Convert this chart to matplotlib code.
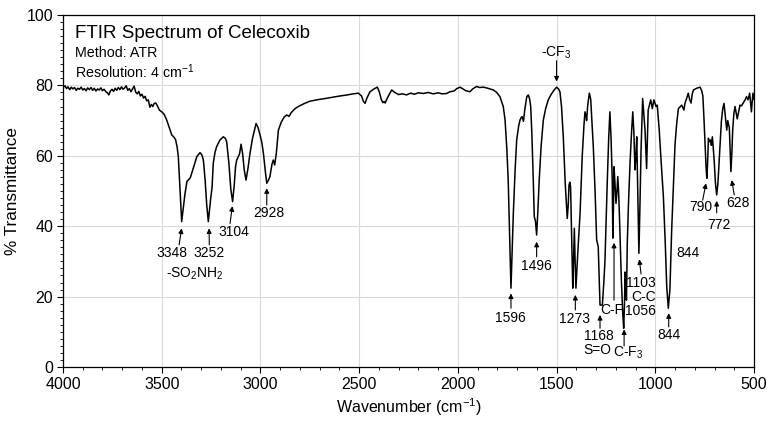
import matplotlib
matplotlib.use("Agg")
import matplotlib.pyplot as plt
from matplotlib.ticker import MultipleLocator

plt.rcParams['font.family'] = ['Liberation Sans', 'DejaVu Sans']
plt.rcParams['mathtext.fontset'] = 'custom'
plt.rcParams['mathtext.rm'] = 'Liberation Sans'
plt.rcParams['mathtext.it'] = 'Liberation Sans:italic'
plt.rcParams['mathtext.bf'] = 'Liberation Sans:bold'

# spectrum (wavenumber cm-1, % transmittance)
wavenumber = [
    4000, 3990, 3982, 3975, 3966, 3958, 3950, 3942, 3933, 3925, 3917, 3908, 3900, 3892, 3883, 3875,
    3867, 3858, 3850, 3842, 3833, 3825, 3817, 3808, 3800, 3792, 3783, 3775, 3768, 3760, 3752, 3744,
    3736, 3728, 3720, 3712, 3704, 3696, 3688, 3680, 3672, 3664, 3656, 3648, 3640, 3632, 3624, 3616,
    3608, 3600, 3592, 3584, 3576, 3568, 3560, 3552, 3545, 3538, 3530, 3522, 3512, 3500, 3488, 3475,
    3462, 3449, 3438, 3430, 3422, 3416, 3408, 3399, 3390, 3382, 3372, 3365, 3355, 3340, 3322, 3306,
    3296, 3289, 3280, 3272, 3264, 3258, 3252, 3245, 3239, 3230, 3222, 3205, 3188, 3178, 3171, 3160,
    3150, 3141, 3133, 3126, 3120, 3112, 3106, 3098, 3090, 3082, 3073, 3063, 3053, 3040, 3022, 3012,
    3002, 2993, 2985, 2975, 2968, 2960, 2952, 2942, 2935, 2928, 2920, 2909, 2895, 2880, 2867, 2855,
    2845, 2825, 2808, 2780, 2750, 2715, 2680, 2640, 2597, 2560, 2530, 2504, 2488, 2478, 2470, 2460,
    2445, 2425, 2408, 2398, 2388, 2380, 2374, 2368, 2364, 2350, 2335, 2320, 2300, 2280, 2260, 2240,
    2220, 2200, 2175, 2150, 2125, 2100, 2080, 2057, 2040, 2020, 2005, 1989, 1975, 1960, 1939, 1925,
    1905, 1890, 1870, 1855, 1837, 1820, 1803, 1787, 1770, 1761, 1752, 1745, 1738, 1731, 1725, 1719,
    1710, 1702, 1692, 1685, 1678, 1674, 1668, 1660, 1651, 1643, 1636, 1631, 1625, 1618, 1613, 1607,
    1601, 1595, 1588, 1578, 1567, 1555, 1542, 1530, 1515, 1500, 1490, 1483, 1475, 1466, 1456, 1446,
    1441, 1437, 1433, 1429, 1424, 1418, 1414, 1410, 1406, 1402, 1392, 1381, 1370, 1361, 1356, 1350,
    1348, 1342, 1334, 1327, 1314, 1305, 1297, 1289, 1284, 1280, 1268, 1260, 1255, 1243, 1236, 1230,
    1224, 1218, 1215, 1212, 1209, 1204, 1199, 1194, 1190, 1186, 1182, 1172, 1165, 1160, 1156, 1153,
    1150, 1146, 1142, 1136, 1128, 1120, 1114, 1108, 1103, 1098, 1094, 1089, 1083, 1078, 1072, 1064,
    1058, 1052, 1044, 1040, 1036, 1023, 1015, 1007, 996, 990, 980, 970, 959, 950, 942, 934,
    926, 917, 908, 900, 891, 883, 866, 855, 850, 840, 833, 826, 819, 813, 807, 790,
    773, 765, 759, 753, 748, 743, 739, 735, 731, 726, 720, 716, 711, 706, 701, 695,
    689, 683, 677, 672, 665, 658, 652, 645, 638, 633, 625, 621, 617, 612, 608, 602,
    596, 590, 585, 578, 571, 563, 555, 546, 538, 530, 522, 517, 513, 509, 505, 500,
]
transmittance = [
    79.4, 79.9, 79.1, 79.6, 78.8, 79.5, 79.0, 79.4, 78.6, 79.2, 78.9, 79.5, 78.7, 79.1, 78.5, 79.3,
    78.8, 79.4, 78.6, 79.2, 78.4, 79.0, 78.7, 79.3, 78.5, 78.9, 78.2, 77.9, 77.3, 78.4, 78.9, 78.3,
    79.2, 78.6, 79.4, 78.8, 79.6, 78.9, 79.3, 79.9, 78.6, 79.1, 78.2, 79.0, 79.8, 78.1, 77.6, 78.3,
    77.0, 77.5, 76.4, 76.9, 75.6, 75.9, 73.8, 74.6, 74.0, 74.9, 75.0, 74.2, 73.0, 72.5, 71.8, 70.2,
    68.0, 65.9, 65.3, 64.6, 62.5, 59.8, 51.0, 41.3, 45.5, 49.3, 52.8, 53.1, 53.8, 56.5, 59.8, 60.9,
    60.2, 58.8, 53.0, 46.0, 41.3, 44.5, 47.9, 51.0, 57.9, 61.0, 62.6, 64.5, 65.4, 65.0, 64.0, 58.0,
    50.5, 47.0, 51.5, 57.0, 58.8, 59.8, 60.5, 63.3, 60.5, 56.0, 53.1, 56.5, 60.7, 65.0, 69.2, 68.0,
    65.9, 63.8, 60.7, 55.5, 52.2, 53.0, 54.1, 57.5, 58.8, 57.4, 60.5, 67.3, 69.5, 71.0, 71.6, 71.2,
    72.2, 73.4, 74.0, 74.8, 75.5, 75.9, 76.2, 76.6, 77.0, 77.3, 77.6, 77.8, 77.0, 75.4, 74.9, 76.5,
    78.2, 79.0, 79.5, 78.2, 76.0, 75.1, 75.4, 75.0, 75.6, 77.2, 78.7, 78.0, 77.4, 77.6, 77.3, 77.8,
    77.5, 77.9, 77.7, 78.0, 77.6, 77.9, 77.6, 77.7, 78.2, 78.4, 79.1, 79.5, 79.0, 78.5, 78.2, 79.0,
    79.7, 79.4, 79.5, 79.3, 79.0, 78.7, 78.0, 76.8, 74.0, 70.2, 62.0, 53.1, 38.0, 22.4, 33.0, 43.7,
    56.0, 64.5, 68.5, 70.2, 71.0, 71.1, 69.8, 73.5, 76.8, 77.3, 76.0, 74.0, 66.0, 53.1, 42.7, 41.5,
    37.5, 44.0, 53.1, 63.0, 70.2, 73.5, 75.9, 77.2, 78.5, 79.5, 79.0, 78.2, 74.0, 65.4, 52.0, 42.2,
    46.0, 51.7, 52.5, 51.0, 38.0, 22.4, 30.0, 39.4, 30.0, 22.4, 33.0, 43.7, 60.0, 69.0, 72.5, 71.0,
    70.0, 74.5, 77.8, 76.0, 62.6, 50.0, 36.1, 34.2, 25.0, 17.6, 17.6, 24.7, 30.0, 53.1, 65.0, 72.5,
    65.0, 53.1, 36.6, 45.0, 56.9, 52.0, 46.5, 50.0, 54.1, 50.0, 43.7, 25.0, 15.3, 11.0, 18.0, 27.0,
    22.0, 19.0, 35.0, 46.0, 57.9, 67.0, 72.5, 66.0, 56.0, 60.0, 65.4, 50.0, 32.3, 45.0, 62.0, 76.3,
    72.0, 67.3, 56.4, 65.0, 73.0, 75.9, 73.4, 75.9, 74.0, 74.4, 67.3, 58.0, 48.4, 36.0, 22.8, 16.7,
    22.0, 38.9, 52.0, 63.3, 69.5, 73.4, 74.4, 73.0, 74.9, 76.5, 77.8, 76.0, 75.0, 77.5, 78.7, 79.2,
    79.5, 78.5, 77.0, 70.0, 63.3, 57.0, 53.6, 58.0, 65.0, 64.0, 64.5, 63.0, 65.4, 62.0, 58.0, 52.0,
    48.9, 52.0, 58.0, 63.3, 70.0, 73.5, 74.9, 71.0, 67.3, 70.0, 68.0, 62.0, 55.5, 61.0, 67.3, 72.0,
    74.0, 72.0, 70.5, 72.5, 74.4, 74.2, 75.0, 75.8, 76.8, 75.9, 77.8, 75.0, 72.5, 75.5, 77.8, 76.0,
]

# peak labels and where they sit (wavenumber, %T)
label_text = ["3348", "3252", "-SO$_2$NH$_2$", "3104", "2928", "-CF$_3$", "1596", "1496",
              "1273", "1168", "S=O", "C-F", "C-F$_3$", "1103", "C-C", "1056", "844", "844",
              "790", "772", "628"]
label_x = [3446, 3261, 3331, 3137, 2960, 1500, 1736, 1604,
           1407, 1284, 1294, 1221, 1137, 1072, 1060, 1077, 932, 833,
           770, 677, 580]
label_y = [32.3, 32.3, 26.6, 38.4, 43.7, 89.3, 13.8, 28.7,
           13.6, 8.8, 4.8, 16.2, 3.9, 24.0, 20.0, 15.9, 9.1, 32.3,
           45.5, 40.3, 46.5]

# arrows: tail -> tip
arrow_tail_x = [3412, 3259, 3154, 2968, 1500, 1731, 1601, 1405, 1280, 1209, 1158, 1072, 932, 760, 689, 600]
arrow_tail_y = [34.7, 34.7, 40.8, 46.0, 87.0, 16.7, 31.3, 16.2, 11.0, 19.0, 6.0, 26.4, 11.4, 47.4, 43.8, 48.9]
arrow_tip_x = [3399, 3260, 3142, 2968, 1500, 1731, 1601, 1405, 1280, 1209, 1158, 1081, 932, 743, 689, 613]
arrow_tip_y = [39.4, 39.4, 45.7, 50.8, 81.1, 20.9, 35.6, 20.5, 14.8, 35.3, 10.7, 30.6, 15.3, 52.2, 47.2, 53.1]

fig = plt.figure(figsize=(7.77, 4.24), dpi=100)
ax = fig.add_axes([0.0811, 0.1344, 0.8893, 0.8302])

ax.plot(wavenumber, transmittance, color='black', lw=1.1)

ax.set_xlim(4000, 500)
ax.set_ylim(0, 100)
ax.xaxis.set_major_locator(MultipleLocator(500))
ax.xaxis.set_minor_locator(MultipleLocator(100))
ax.yaxis.set_major_locator(MultipleLocator(20))
ax.yaxis.set_minor_locator(MultipleLocator(2))
ax.grid(True, which='major', color='#d9d9d9', lw=0.8)
ax.set_axisbelow(True)
ax.tick_params(which='major', direction='out', length=4, width=0.8, labelsize=11.5, pad=3)
ax.tick_params(which='minor', direction='out', length=2.5, width=0.6)
for sp in ax.spines.values():
    sp.set_linewidth(0.9)

ax.set_xlabel('Wavenumber (cm$^{-1}$)', fontsize=11.5, labelpad=3)
ax.set_ylabel('% Transmittance', fontsize=12.3, labelpad=5)

ax.text(0.0174, 0.948, 'FTIR Spectrum of Celecoxib', transform=ax.transAxes,
        fontsize=13.5, va='center', ha='left')
ax.text(0.0174, 0.891, 'Method: ATR', transform=ax.transAxes,
        fontsize=10.3, va='center', ha='left')
ax.text(0.0174, 0.839, 'Resolution: 4 cm$^{-1}$', transform=ax.transAxes,
        fontsize=10.3, va='center', ha='left')

for t, x, y in zip(label_text, label_x, label_y):
    ax.text(x, y, t, fontsize=10, ha='center', va='center')

for x0, y0, x1, y1 in zip(arrow_tail_x, arrow_tail_y, arrow_tip_x, arrow_tip_y):
    ax.annotate('', xy=(x1, y1), xytext=(x0, y0),
                arrowprops=dict(arrowstyle='-|>', color='black', lw=0.8,
                                mutation_scale=7, shrinkA=0, shrinkB=0))

fig.savefig('out.png', dpi=100)
